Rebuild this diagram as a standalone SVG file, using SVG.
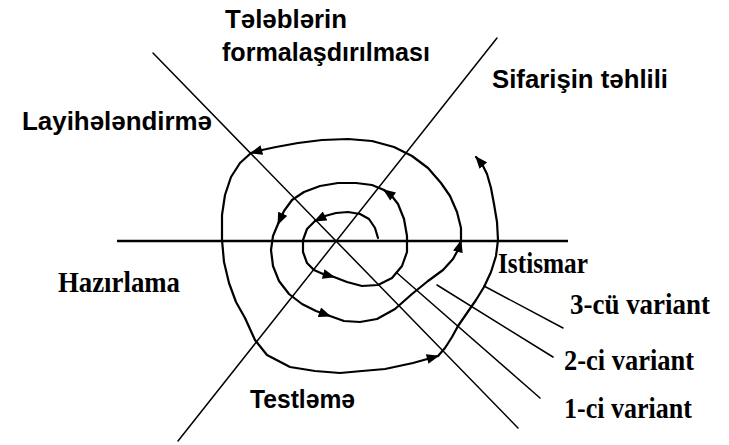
<svg xmlns="http://www.w3.org/2000/svg" width="729" height="445" viewBox="0 0 729 445">
  <style>
    .ax { stroke: #000; fill: none; stroke-width: 1.5; stroke-linecap: round; }
    .hz { stroke: #000; fill: none; stroke-width: 2.6; }
    .sp { stroke: #000; fill: none; stroke-width: 2.2; stroke-linejoin: round; stroke-linecap: round; marker-end: url(#ah); }
    .sans { font-family: "Liberation Sans", Arial, sans-serif; font-size: 25px; font-weight: bold; fill: #000; }
    .serif { font-family: "Liberation Serif", "Times New Roman", serif; font-size: 29px; font-weight: bold; fill: #000; }
  </style>
  <defs>
    <marker id="ah" viewBox="0 0 10 8" refX="9" refY="4" markerWidth="13" markerHeight="10" markerUnits="userSpaceOnUse" orient="auto">
      <path d="M0,0 L10,4 L0,8 z" fill="#000"/>
    </marker>
  </defs>
  <rect width="729" height="445" fill="#fff"/>

  <g id="axes">
    <line class="hz" x1="117" y1="241" x2="568" y2="241"/>
    <line class="ax" x1="497" y1="38" x2="178" y2="441"/>
    <line class="ax" x1="153" y1="53" x2="518" y2="428"/>
  </g>

  <g id="connectors">
    <path class="sp" d="M378,238 L375,228 L369,219 L360,214 L348,212 L336,213 L325,216 L315,221"/>
    <path class="sp" d="M315,221 L307,229 L303,240 L303,252 L307,263 L314,270 L323,274 L334,277"/>
    <path class="sp" d="M334,277 L347,282 L362,286 L378,285 L392,278 L402,266 L407,252 L407,236 L404,219 L398,204 L391,195 L384,190"/>
    <path class="sp" d="M384,190 L372,185 L356,183 L338,183 L320,186 L304,192 L292,200 L284,211 L278,224"/>
    <path class="sp" d="M278,224 L273,236 L271,250 L273,266 L279,281 L289,294 L302,304 L316,311 L330,316"/>
    <path class="sp" d="M330,316 L344,321 L360,322 L377,319 L395,309 L412,294 L428,281 L443,270 L453,259 L459,248 L461,241"/>
    <path class="sp" d="M461,241 L461,228 L457,212 L450,196 L441,183 L428,168 L412,156 L394,147 L372,141 L348,139 L322,140 L298,143 L276,147 L262,150 L251,153"/>
    <path class="sp" d="M251,153 L240,163 L231,177 L225,195 L222,215 L222,240 L224,262 L229,283 L236,302 L245,318 L255,340 L267,355 L290,367 L315,371 L340,373 L362,371 L385,369 L413,363 L438,356"/>
    <path class="sp" d="M438,356 L445,348 L452,337 L458,326 L467,313 L476,300 L484,287 L491,272 L496,256 L498,240 L497,222 L494,204 L491,188 L487,174 L482,164 L476,157"/>
    <line class="ax" x1="397" y1="273" x2="540" y2="398"/>
    <line class="ax" x1="437" y1="285" x2="553" y2="357"/>
    <line class="ax" x1="484" y1="286" x2="563" y2="328"/>
  </g>

  <g id="labels">
    <g id="n-telebler"><text class="sans" x="225" y="28" textLength="122" lengthAdjust="spacingAndGlyphs">Tələblərin</text>
    <text class="sans" x="222" y="61" textLength="208" lengthAdjust="spacingAndGlyphs">formalaşdırılması</text></g>
    <g id="n-sifaris"><text class="sans" x="492" y="88" textLength="176" lengthAdjust="spacingAndGlyphs">Sifarişin təhlili</text></g>
    <g id="n-layihe"><text class="sans" x="22" y="130" textLength="190" lengthAdjust="spacingAndGlyphs">Layihələndirmə</text></g>
    <g id="n-hazirlama"><text class="serif" x="58" y="292" textLength="122" lengthAdjust="spacingAndGlyphs">Hazırlama</text></g>
    <g id="n-istismar"><text class="serif" x="498" y="273" textLength="90" lengthAdjust="spacingAndGlyphs">Istismar</text></g>
    <g id="n-v3"><text class="serif" x="570" y="314" textLength="140" lengthAdjust="spacingAndGlyphs">3-cü variant</text></g>
    <g id="n-v2"><text class="serif" x="564" y="370" textLength="130" lengthAdjust="spacingAndGlyphs">2-ci variant</text></g>
    <g id="n-v1"><text class="serif" x="564" y="418" textLength="128" lengthAdjust="spacingAndGlyphs">1-ci variant</text></g>
    <g id="n-test"><text class="sans" x="250" y="408" textLength="105" lengthAdjust="spacingAndGlyphs">Testləmə</text></g>
  </g>
</svg>
